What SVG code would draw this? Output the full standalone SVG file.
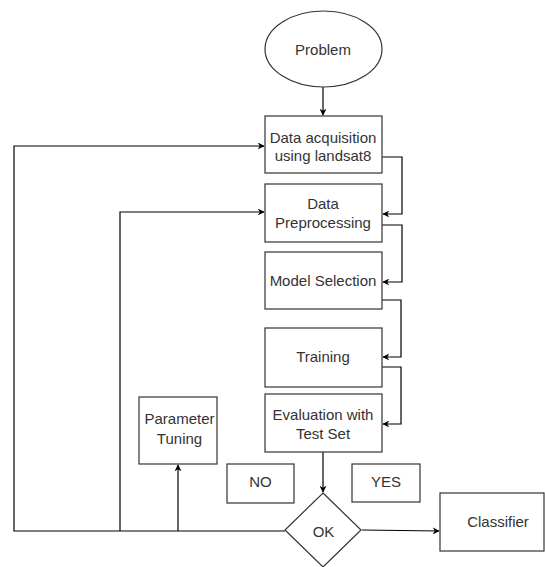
<svg xmlns="http://www.w3.org/2000/svg" width="545" height="567" viewBox="0 0 545 567">
  <style>
    .shape { fill: #ffffff; stroke: #333333; stroke-width: 1.2; }
    .label { font-family: "Liberation Sans", Arial, sans-serif; font-size: 15px; fill: #333333; text-anchor: middle; }
    .edge { fill: none; stroke: #000000; stroke-width: 1.2; }
  </style>
  <defs>
    <marker id="arrow" viewBox="0 0 10 10" refX="9" refY="5" markerWidth="7" markerHeight="7" orient="auto" markerUnits="userSpaceOnUse">
      <path d="M0,0 L10,5 L0,10 L3,5 Z" fill="#000000"/>
    </marker>
  </defs>
  <rect width="545" height="567" fill="#ffffff"/>

  <g id="connectors">
    <path class="edge" d="M323,87 L323,115" marker-end="url(#arrow)"/>
    <path class="edge" d="M382,157 L402,157 L402,214 L383,214" marker-end="url(#arrow)"/>
    <path class="edge" d="M382,225 L402,225 L402,282 L383,282" marker-end="url(#arrow)"/>
    <path class="edge" d="M382,300 L401,300 L401,357 L383,357" marker-end="url(#arrow)"/>
    <path class="edge" d="M382,367 L401,367 L401,424 L383,424" marker-end="url(#arrow)"/>
    <path class="edge" d="M323,452 L323,492" marker-end="url(#arrow)"/>
    <path class="edge" d="M362,530 L439,531" marker-end="url(#arrow)"/>
    <path class="edge" d="M285,531 L14,531 L14,146 L264,146" marker-end="url(#arrow)"/>
    <path class="edge" d="M120,531 L120,212 L264,212" marker-end="url(#arrow)"/>
    <path class="edge" d="M178,531 L178,465" marker-end="url(#arrow)"/>
  </g>

  <g id="problem">
    <ellipse class="shape" cx="323.5" cy="49" rx="58.5" ry="38"/>
    <text class="label" x="323" y="55" font-size="17">Problem</text>
  </g>
  <g id="acquisition">
    <rect class="shape" x="265" y="116" width="117" height="57"/>
    <text class="label" x="323" y="143">Data acquisition</text>
    <text class="label" x="323" y="161">using landsat8</text>
  </g>
  <g id="preprocessing">
    <rect class="shape" x="265" y="184" width="117" height="58"/>
    <text class="label" x="323" y="209">Data</text>
    <text class="label" x="323" y="227.5">Preprocessing</text>
  </g>
  <g id="model-selection">
    <rect class="shape" x="265" y="252" width="117" height="57"/>
    <text class="label" x="323" y="285.5">Model Selection</text>
  </g>
  <g id="training">
    <rect class="shape" x="265" y="328" width="117" height="59"/>
    <text class="label" x="323" y="361.5">Training</text>
  </g>
  <g id="evaluation">
    <rect class="shape" x="265" y="394" width="117" height="58"/>
    <text class="label" x="323" y="420">Evaluation with</text>
    <text class="label" x="323" y="438.5">Test Set</text>
  </g>
  <g id="parameter-tuning">
    <rect class="shape" x="139" y="397" width="78" height="67"/>
    <text class="label" x="179.5" y="423.5">Parameter</text>
    <text class="label" x="179.5" y="443.5">Tuning</text>
  </g>
  <g id="no">
    <rect class="shape" x="227" y="464" width="67" height="39"/>
    <text class="label" x="260.5" y="486.5" font-size="11.5">NO</text>
  </g>
  <g id="yes">
    <rect class="shape" x="352" y="464" width="68" height="38"/>
    <text class="label" x="386" y="486.5" font-size="11.5">YES</text>
  </g>
  <g id="ok">
    <polygon class="shape" points="323,493 361,530 323,567 285,530"/>
    <text class="label" x="323.5" y="536.5" font-size="16">OK</text>
  </g>
  <g id="classifier">
    <rect class="shape" x="440" y="493" width="104" height="58"/>
    <text class="label" x="498" y="526.5" font-size="16">Classifier</text>
  </g>
</svg>
